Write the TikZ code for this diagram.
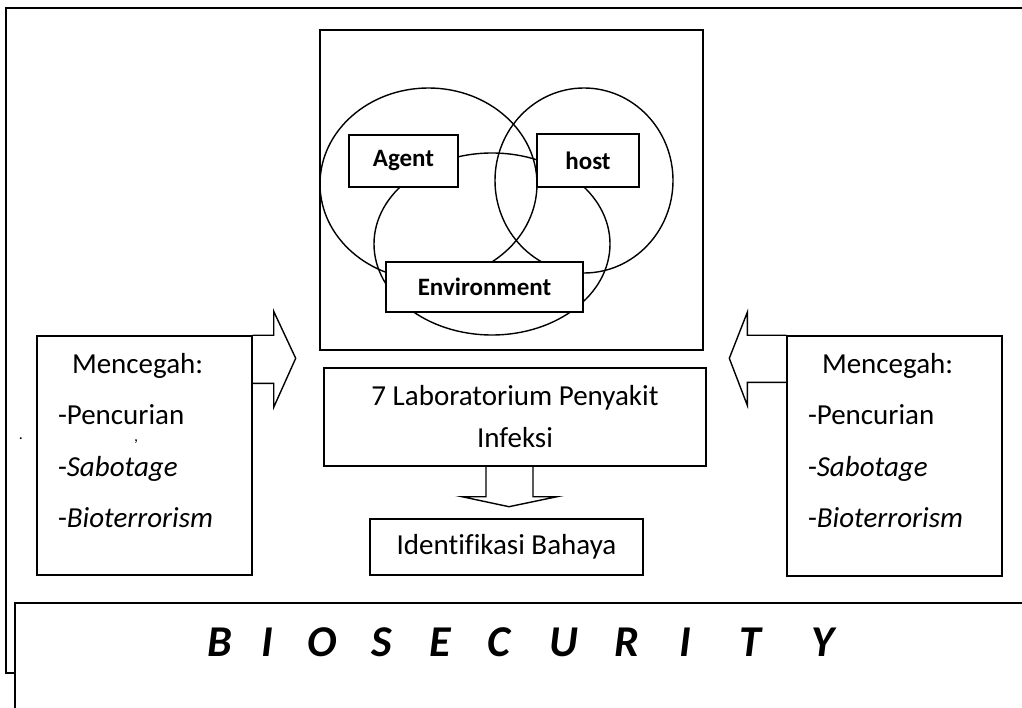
\documentclass[tikz,border=0pt]{standalone}
\usepackage{fontspec}
\setmainfont[Ligatures=NoCommon]{Carlito}
\usetikzlibrary{calc, shapes.geometric}

\begin{document}
\begin{tikzpicture}[x=1pt,y=-1pt,line width=1.4pt,
  box/.style={draw,fill=white,inner sep=0pt},
  ring/.style={draw,ellipse,inner sep=0pt},
  txt/.style={font=\fontsize{29}{42}\selectfont,inner sep=0pt},
  venntxt/.style={box,font=\fontsize{25}{30}\selectfont\bfseries},
  bio/.style={font=\fontsize{44}{50}\selectfont\bfseries\itshape,inner sep=0pt,anchor=base}]
\clip (0,0) rectangle (1022,708);
\draw (1030,8) -- (6,8) -- (6,673) -- (15,673);
\draw (1030,603) -- (15,603) -- (15,720);
\node[box,minimum width=383,minimum height=320] (venn) at (511.5,190) {};
\node[ring,minimum width=217,minimum height=192] (agentring) at (428.5,184) {};
\node[ring,minimum width=178,minimum height=185] (hostring) at (584,180.5) {};
\node[ring,minimum width=236,minimum height=182] (envring) at (492,244) {};
\node[venntxt,minimum width=109,minimum height=52] (agent) at (403.5,161) {Agent};
\node[venntxt,minimum width=102,minimum height=53] (host) at (588,160.5) {host};
\node[venntxt,minimum width=197,minimum height=50] (env) at (484.5,287) {Environment};
\node[box,txt,minimum width=382,minimum height=98,align=center] (lab) at (515,417) {7 Laboratorium Penyakit\\Infeksi};
\node[box,txt,minimum width=273,minimum height=56] (ident) at (506.5,547) {Identifikasi Bahaya};
\node[box,minimum width=215,minimum height=239] (leftbox) at (144.5,455.5) {};
\node[box,minimum width=215,minimum height=240] (rightbox) at (894.5,456) {};
\foreach \b in {leftbox,rightbox}{
  \node[txt,anchor=base west] (\b-a) at ($(\b.north west)+(35,38)$) {Mencegah:};
  \node[txt,anchor=base west] (\b-b) at ($(\b.north west)+(21,89)$) {-Pencurian};
  \node[txt,anchor=base west] (\b-c) at ($(\b.north west)+(21,141)$) {-\textit{Sabotage}};
  \node[txt,anchor=base west] (\b-d) at ($(\b.north west)+(21,192)$) {-\textit{Bioterrorism}};
}
\node[font=\fontsize{16}{18}\selectfont,inner sep=0pt] (comma) at (136,442) {,};
\node[font=\fontsize{16}{18}\selectfont,inner sep=0pt] (dot) at (21,439) {.};
\draw (leftbox.north east) -- ++(21,0) -- ++(0,-24) -- ++(22,47) -- ++(-22,49) -- ++(0,-24) -- ++(-21,0);
\draw (rightbox.north west) -- ++(-39,0) -- ++(0,-23) -- ++(-18,46) -- ++(18,47) -- ++(0,-23) -- ++(39,0);
\draw ($(lab.south)+(-29,0)$) -- ++(0,30) -- ++(-24,0) -- ++(47,10) -- ++(48,-10) -- ++(-24,0) -- ++(0,-30);
\foreach \ch/\px [count=\i] in {B/220,I/267,O/322,S/382,E/440,C/499,U/564,R/627,I/685,T/750,Y/823}
  \node[bio] (bio\i) at (\px,656) {\ch};
\end{tikzpicture}
\end{document}
